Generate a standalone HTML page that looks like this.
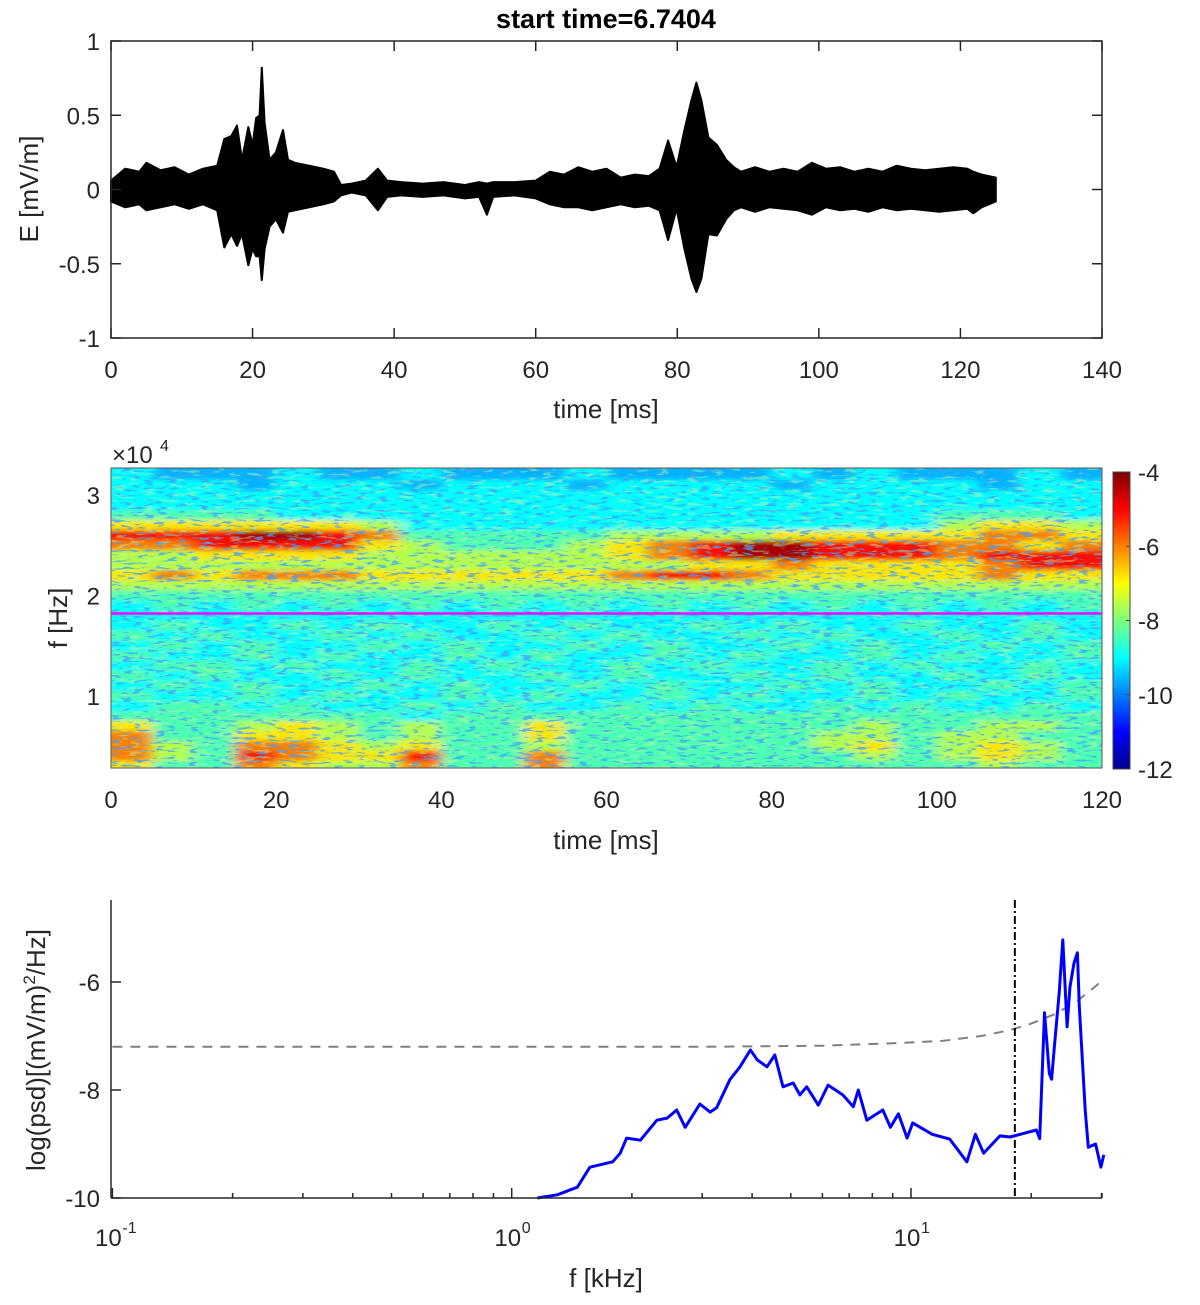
<!DOCTYPE html>
<html><head><meta charset="utf-8"><style>
html,body{margin:0;padding:0;background:#fff;}
svg{display:block;font-family:"Liberation Sans",Arial,sans-serif;}
</style></head><body>
<svg id="fig" width="1200" height="1305" viewBox="0 0 1200 1305" xmlns="http://www.w3.org/2000/svg">
<defs>
<filter id="blur" x="-5%" y="-5%" width="110%" height="110%"><feGaussianBlur stdDeviation="7 2.5"/></filter>
<filter id="speck" x="0" y="0" width="100%" height="100%">
<feTurbulence type="fractalNoise" baseFrequency="0.09 0.4" numOctaves="2" seed="7"/>
<feColorMatrix type="matrix" values="0 0 0 0 0.05  0 0 0 0 0.35  0 0 0 0 1  9 0 0 0 -5.1"/>
</filter>
<filter id="speck2" x="0" y="0" width="100%" height="100%">
<feTurbulence type="fractalNoise" baseFrequency="0.07 0.3" numOctaves="2" seed="21"/>
<feColorMatrix type="matrix" values="0 0 0 0 0.55  0 0 0 0 0.95  0 0 0 0 0.35  9 0 0 0 -5.0"/>
</filter>
<clipPath id="specClip"><rect x="111" y="468" width="991" height="300"/></clipPath>
<linearGradient id="jetGrad" x1="0" y1="1" x2="0" y2="0">
<stop offset="0" stop-color="#00008f"/><stop offset="0.125" stop-color="#0000ff"/><stop offset="0.375" stop-color="#00ffff"/><stop offset="0.625" stop-color="#ffff00"/><stop offset="0.875" stop-color="#ff0000"/><stop offset="1" stop-color="#800000"/>
</linearGradient>
</defs>
<text x="606" y="28" text-anchor="middle" font-size="27" font-weight="bold" fill="#000">start time=6.7404</text>
<g id="top"></g>
<g id="spec"></g>
<g id="psd"></g>
</svg>
<script>
// ---- time series envelope (ms, mV/m) ----
const tsTimes = [0,2,4,5,7,9,11,13,15,16,17,17.8,18.5,19.4,20,20.5,21,21.3,21.7,22.4,23.3,24.3,25,26,28,30,31.5,32.5,34,36,37.7,39,41,44,47,50,52,53.1,54,57,60,62,64,66,68,70,72,74,76,77.5,78.7,79.9,81,82,82.7,83.4,84.4,85.6,86.9,88,89,91,93,95,97,99,101,103,105,107,109,111,113,115,117,119,121,121.8,123,125];
const tsUpper = [0.06,0.14,0.12,0.18,0.13,0.15,0.10,0.14,0.16,0.34,0.36,0.43,0.2,0.42,0.3,0.48,0.5,0.82,0.45,0.2,0.25,0.4,0.2,0.18,0.16,0.14,0.12,0.03,0.04,0.06,0.14,0.06,0.05,0.04,0.05,0.03,0.05,0.04,0.05,0.05,0.06,0.12,0.1,0.15,0.12,0.14,0.08,0.1,0.09,0.14,0.33,0.15,0.4,0.6,0.72,0.6,0.35,0.3,0.2,0.15,0.12,0.15,0.12,0.14,0.12,0.18,0.14,0.15,0.12,0.14,0.12,0.16,0.14,0.13,0.14,0.15,0.14,0.12,0.1,0.08];
const tsLower = [-0.08,-0.12,-0.1,-0.14,-0.12,-0.1,-0.13,-0.1,-0.14,-0.39,-0.3,-0.38,-0.3,-0.51,-0.4,-0.45,-0.45,-0.61,-0.4,-0.25,-0.2,-0.29,-0.15,-0.14,-0.12,-0.1,-0.08,-0.04,-0.02,-0.04,-0.14,-0.05,-0.04,-0.05,-0.04,-0.06,-0.05,-0.17,-0.05,-0.04,-0.06,-0.1,-0.12,-0.12,-0.14,-0.12,-0.1,-0.12,-0.11,-0.14,-0.34,-0.13,-0.4,-0.6,-0.69,-0.6,-0.3,-0.31,-0.2,-0.14,-0.12,-0.15,-0.12,-0.13,-0.14,-0.17,-0.12,-0.14,-0.13,-0.15,-0.12,-0.14,-0.13,-0.14,-0.15,-0.14,-0.13,-0.16,-0.12,-0.08];
const tsXTicks = [0,20,40,60,80,100,120,140];
const tsYTicks = [-1,-0.5,0,0.5,1];

// ---- spectrogram (rows: f = 32..3 kHz, cols: 5 ms bins 0..120) ----
const specFreqsKHz = [32,31,30,29,28,27,26,25,24,23,22,21,20,19,18,17,16,15,14,13,12,11,10,9,8,7,6,5,4,3];
const specLevels = [-11.5,-10.5,-9.6,-9.0,-8.4,-7.6,-6.8,-6.0,-5.1,-4.3];
const specRows = [
"322232232223222232322232",
"333233323332333323333233",
"333333333333333333333333",
"333333333333333333333333",
"444433333333333333334443",
"666666533333333333335665",
"888998744444555566666776",
"778888654445678998887767",
"556666555555678998887888",
"555555555555556676666788",
"676777666666788766666766",
"555555555555555555555555",
"444444444444444444444444",
"343434343434343434343434",
"333333333333333333333333",
"343343433434334343343343",
"434334343343433434334343",
"343433434334343343433434",
"433434334343343433434334",
"344343343433434334343343",
"434334343343433434334343",
"343433434334343343433434",
"433434334343343433434334",
"344343343433434334343343",
"444444434444444444444444",
"644565454464444444544554",
"744665454464444445545544",
"754776564454444445645654",
"754876684474444444545654",
"644765574474444444444544"];
const specXTicks = [0,20,40,60,80,100,120];
const specYTicks = [1,2,3];
const cbTicks = [-4,-6,-8,-10,-12];
const magentaFreqKHz = 18.2;

// ---- PSD ----
const psdFreqs = [1.16,1.30,1.46,1.57,1.79,1.87,1.94,2.10,2.31,2.45,2.59,2.72,2.96,3.14,3.26,3.52,3.73,3.96,4.12,4.36,4.56,4.78,5.07,5.27,5.48,5.86,6.2,6.75,7.17,7.38,7.75,8.5,8.88,9.3,9.78,10.1,11.3,12.5,13.8,14.5,15.2,16.7,17.7,20.6,21.0,21.6,22.2,22.5,22.9,23.5,24.0,24.6,25.0,25.6,26.1,26.4,27.3,27.8,29.0,29.9,30.4];
const psdValues = [-10,-9.94,-9.8,-9.43,-9.33,-9.17,-8.89,-8.93,-8.56,-8.52,-8.37,-8.69,-8.26,-8.41,-8.33,-7.81,-7.57,-7.26,-7.44,-7.57,-7.35,-7.94,-7.87,-8.09,-7.94,-8.28,-7.91,-8.09,-8.31,-8.0,-8.56,-8.37,-8.69,-8.44,-8.89,-8.61,-8.82,-8.91,-9.33,-8.82,-9.17,-8.85,-8.87,-8.74,-8.9,-6.57,-7.69,-7.8,-7.13,-6.2,-5.22,-6.83,-6.1,-5.65,-5.46,-6.45,-8.37,-9.06,-9.0,-9.43,-9.2];
const thrFreqs = [0.1,1,3,6,9.4,12,15,17.7,20,23,26,29,30.4];
const thrValues = [-7.2,-7.2,-7.2,-7.18,-7.13,-7.09,-7.0,-6.89,-6.77,-6.59,-6.36,-6.08,-5.94];
const cutoffFreqKHz = 18.2;
const psdYTicks = [-6,-8,-10];
const psdDecades = [-1,0,1];

const NS = "http://www.w3.org/2000/svg";
function mk(parent, tag, attrs, text){
  const e = document.createElementNS(NS, tag);
  for (const k in attrs) e.setAttribute(k, attrs[k]);
  if (text !== undefined) e.textContent = text;
  parent.appendChild(e);
  return e;
}
const TXT = "#262626", AX = "#262626";

// ===== Top panel =====
(function(){
  const g = document.getElementById('top');
  const x0=111,x1=1102,y0=41,y1=338;
  const X = t => x0 + (t-0)/(140-0)*(x1-x0);
  const Y = v => y1 - (v+1)/2*(y1-y0);
  let pts = [];
  for (let i=0;i<tsTimes.length;i++) pts.push(X(tsTimes[i]).toFixed(1)+','+Y(tsUpper[i]).toFixed(1));
  for (let i=tsTimes.length-1;i>=0;i--) pts.push(X(tsTimes[i]).toFixed(1)+','+Y(tsLower[i]).toFixed(1));
  const wave = mk(g,'polygon',{points:pts.join(' '),fill:'#000',stroke:'#000','stroke-width':2,'stroke-linejoin':'round'});
  
  
  const box = mk(g,'rect',{x:x0,y:y0,width:x1-x0,height:y1-y0,fill:'none',stroke:AX,'stroke-width':1.5});
  
  
  tsXTicks.forEach(t=>{
    const x=X(t);
    mk(g,'line',{x1:x,y1:y1,x2:x,y2:y1-10,stroke:AX,'stroke-width':1.5});
    mk(g,'line',{x1:x,y1:y0,x2:x,y2:y0+10,stroke:AX,'stroke-width':1.5});
    const l = mk(g,'text',{x:x,y:378,'text-anchor':'middle','font-size':24,fill:TXT},String(t));
    
    
  });
  tsYTicks.forEach(v=>{
    const y=Y(v);
    mk(g,'line',{x1:x0,y1:y,x2:x0+10,y2:y,stroke:AX,'stroke-width':1.5});
    mk(g,'line',{x1:x1,y1:y,x2:x1-10,y2:y,stroke:AX,'stroke-width':1.5});
    const l = mk(g,'text',{x:100,y:y+9,'text-anchor':'end','font-size':24,fill:TXT},String(v));
    
    
  });
  const xl = mk(g,'text',{x:606,y:418,'text-anchor':'middle','font-size':26,fill:TXT},'time [ms]');
  
  
  const yl = mk(g,'text',{x:0,y:0,'text-anchor':'middle','font-size':26,fill:TXT,transform:'translate(38,189) rotate(-90)'},'E [mV/m]');
  
  
})();

// ===== Spectrogram =====
function jet(v){
  const t = Math.max(0,Math.min(1,(v+12)/8));
  const c = a => Math.round(255*Math.max(0,Math.min(1,1.5-Math.abs(4*t-a))));
  return 'rgb('+c(3)+','+c(2)+','+c(1)+')';
}
(function(){
  const g = document.getElementById('spec');
  const x0=111,x1=1102,y0=468,y1=768;
  const X = t => x0 + t/120*(x1-x0);
  const fTop=32.7,fBot=2.8;
  const Y = f => y0 + (fTop-f)/(fTop-fBot)*(y1-y0);
  const clip = mk(g,'g',{'clip-path':'url(#specClip)'});
  mk(clip,'rect',{x:x0,y:y0,width:x1-x0,height:y1-y0,fill:jet(-8.8)});
  const cells = mk(clip,'g',{filter:'url(#blur)'});
  for (let r=0;r<specRows.length;r++){
    const f = specFreqsKHz[r];
    for (let c=0;c<specRows[r].length;c++){
      const val = specLevels[+specRows[r][c]];
      const xa = X(c*5), xb = X(c*5+5);
      const ya = Y(f+0.5), yb = Y(f-0.5);
      const cell = mk(cells,'rect',{x:(c===0?xa-20:xa).toFixed(1),y:(r===0?ya-20:ya).toFixed(1),width:(xb-xa+(c===0||c===specRows[r].length-1?20:0)+0.5).toFixed(1),height:(yb-ya+(r===0||r===specRows.length-1?20:0)+0.5).toFixed(1),fill:jet(val)});
      
      
    }
  }
  const sp2 = mk(clip,'rect',{x:x0,y:y0,width:x1-x0,height:y1-y0,filter:'url(#speck2)',opacity:0.45});
  
  
  const sp = mk(clip,'rect',{x:x0,y:y0,width:x1-x0,height:y1-y0,filter:'url(#speck)',opacity:0.75});
  
  
  const ml = mk(g,'line',{x1:x0,x2:x1,y1:Y(magentaFreqKHz),y2:Y(magentaFreqKHz),stroke:'#ff00ff','stroke-width':2.5});
  
  
  mk(g,'rect',{x:x0,y:y0,width:x1-x0,height:y1-y0,fill:'none',stroke:'#555','stroke-width':1});
  specXTicks.forEach(t=>{
    const l = mk(g,'text',{x:X(t),y:808,'text-anchor':'middle','font-size':24,fill:TXT},String(t));
    
    
  });
  specYTicks.forEach(v=>{
    const y = Y(v*10);
    const l = mk(g,'text',{x:100,y:y+9,'text-anchor':'end','font-size':24,fill:TXT},String(v));
    
    
  });
  const ex = mk(g,'text',{x:112,y:463,'font-size':24,fill:TXT},'×10');
  
  
  mk(g,'text',{x:160,y:451,'font-size':16,fill:TXT},'4');
  const xl = mk(g,'text',{x:606,y:849,'text-anchor':'middle','font-size':26,fill:TXT},'time [ms]');
  
  
  const yl = mk(g,'text',{x:0,y:0,'text-anchor':'middle','font-size':26,fill:TXT,transform:'translate(67,618) rotate(-90)'},'f [Hz]');
  
  
  // colorbar
  const cbx=1113,cbw=17,cby0=472,cby1=769;
  const cb = mk(g,'rect',{x:cbx,y:cby0,width:cbw,height:cby1-cby0,fill:'url(#jetGrad)',stroke:'#444','stroke-width':1});
  
  
  cbTicks.forEach(v=>{
    const y = cby1 - (v+12)/8*(cby1-cby0);
    mk(g,'line',{x1:cbx+cbw,x2:cbx+cbw-4,y1:y,y2:y,stroke:'#444','stroke-width':1});
    const l = mk(g,'text',{x:1138,y:y+9,'font-size':24,fill:TXT},String(v));
    
    
  });
})();

// ===== PSD =====
(function(){
  const g = document.getElementById('psd');
  const x0=111,x1=1102,y0=900,y1=1198;
  const X = f => 511.7 + 399.3*Math.log10(f);
  const Y = v => y1 - (v+10)*54;
  const thr = mk(g,'polyline',{points:thrFreqs.map((f,i)=>X(f).toFixed(1)+','+Y(thrValues[i]).toFixed(1)).join(' '),fill:'none',stroke:'#808080','stroke-width':2,'stroke-dasharray':'10 8'});
  
  
  const cx = X(cutoffFreqKHz);
  const cut = mk(g,'line',{x1:cx,x2:cx,y1:y0,y2:y1,stroke:'#000','stroke-width':2,'stroke-dasharray':'8 3 2 3'});
  
  
  const psd = mk(g,'polyline',{points:psdFreqs.map((f,i)=>X(f).toFixed(1)+','+Y(psdValues[i]).toFixed(1)).join(' '),fill:'none',stroke:'#0000ff','stroke-width':3,'stroke-linejoin':'round'});
  
  
  mk(g,'line',{x1:x0,x2:x0,y1:y0,y2:y1,stroke:AX,'stroke-width':1.5});
  mk(g,'line',{x1:x0,x2:x1,y1:y1,y2:y1,stroke:AX,'stroke-width':1.5});
  psdYTicks.forEach(v=>{
    const y=Y(v);
    mk(g,'line',{x1:x0,x2:x0+10,y1:y,y2:y,stroke:AX,'stroke-width':1.5});
    const l = mk(g,'text',{x:100,y:y+9,'text-anchor':'end','font-size':24,fill:TXT},String(v));
    
    
  });
  psdDecades.forEach(d=>{
    for (let m=1;m<=9;m++){
      const f = m*Math.pow(10,d);
      const x = X(f);
      if (x> x1+1) continue;
      mk(g,'line',{x1:x,x2:x,y1:y1,y2:y1-(m===1?10:5),stroke:AX,'stroke-width':1.5});
    }
    const x = X(Math.pow(10,d));
    const t = mk(g,'text',{x:x-4,y:1246,'text-anchor':'middle','font-size':24,fill:TXT},'10');
    
    
    mk(g,'text',{x:x+10,y:1233,'font-size':16,fill:TXT},String(d));
  });
  mk(g,'line',{x1:x1,x2:x1,y1:y1,y2:y1-5,stroke:AX,'stroke-width':1.5});
  const xl = mk(g,'text',{x:606,y:1287,'text-anchor':'middle','font-size':26,fill:TXT},'f [kHz]');
  
  
  const yl = mk(g,'text',{x:0,y:0,'text-anchor':'middle','font-size':26,fill:TXT,transform:'translate(45,1050) rotate(-90)'});
  
  
  mk(yl,'tspan',{},'log(psd)[(mV/m)');
  mk(yl,'tspan',{'font-size':17,dy:-10},'2');
  mk(yl,'tspan',{dy:10},'/Hz]');
})();
</script>
</body></html>
